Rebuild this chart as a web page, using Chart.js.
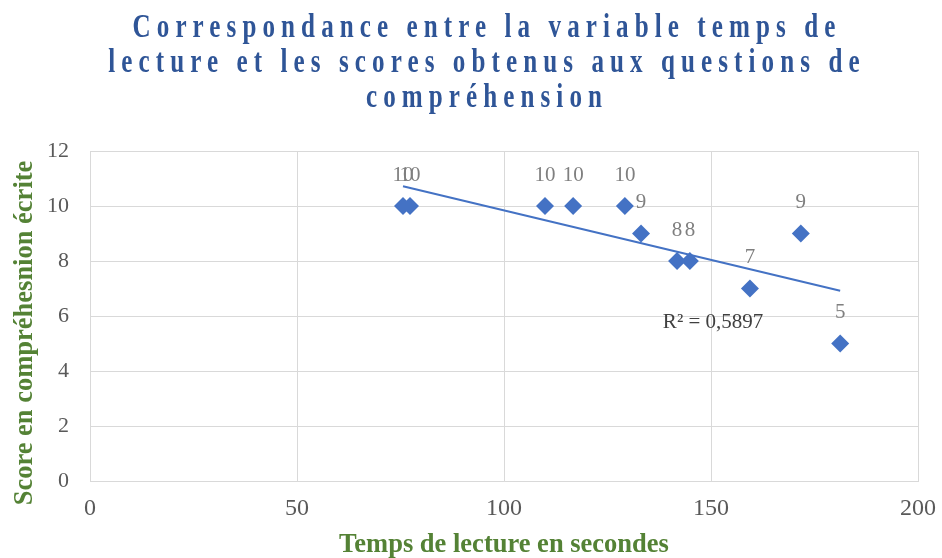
<!DOCTYPE html>
<html>
<head>
<meta charset="utf-8">
<script src="https://cdn.jsdelivr.net/npm/chart.js@4.4.1/dist/chart.umd.min.js"></script>
<style>
  html, body { margin: 0; padding: 0; background: #fff; }
  #wrap { position: relative; width: 942px; height: 558px; overflow: hidden; }
  #title {
    position: absolute; left: -63px; top: 9px; width: 1100px;
    text-align: center; font-family: "Liberation Serif", serif;
    font-weight: bold; font-size: 33px; line-height: 35px;
    letter-spacing: 8px; color: #2F5597; white-space: nowrap;
    transform: scaleX(0.76); transform-origin: center top;
  }
</style>
</head>
<body>
<div id="wrap">
  <div id="title">Correspondance entre la variable temps de<br>lecture et les scores obtenus aux questions de<br>compréhension</div>
  <canvas id="chart" width="942" height="558"></canvas>
</div>
<script>
// reading time (seconds) and comprehension score per pupil
const tempsLecture = [75.6, 77.3, 109.9, 116.7, 129.2, 133.1, 141.8, 144.9, 159.4, 171.7, 181.2];
const scores = [10, 10, 10, 10, 10, 9, 8, 8, 7, 9, 5];
const xTicks = [0, 50, 100, 150, 200];
const yTicks = [0, 2, 4, 6, 8, 10, 12];
const r2Text = 'R² = 0,5897';
const yTitle = 'Score en compréhesnion écrite';
const xTitle = 'Temps de lecture en secondes';

document.addEventListener('DOMContentLoaded', function() {
    const points = tempsLecture.map((x, i) => ({ x: x, y: scores[i] }));

    // least squares line, drawn between the smallest and largest x
    const n = points.length;
    const mx = tempsLecture.reduce((a, b) => a + b, 0) / n;
    const my = scores.reduce((a, b) => a + b, 0) / n;
    let sxy = 0, sxx = 0;
    points.forEach(p => { sxy += (p.x - mx) * (p.y - my); sxx += (p.x - mx) * (p.x - mx); });
    const slope = sxy / sxx;
    const intercept = my - slope * mx;
    const xMin = Math.min(...tempsLecture);
    const xMax = Math.max(...tempsLecture);
    const trend = [
        { x: xMin, y: intercept + slope * xMin },
        { x: xMax, y: intercept + slope * xMax }
    ];

    // value labels above each marker, the R² annotation and the y title
    const labelPlugin = {
        id: 'labels',
        afterDatasetsDraw(chart) {
            const ctx = chart.ctx;
            const meta = chart.getDatasetMeta(0);
            ctx.save();
            ctx.font = '21px "Liberation Serif"';
            ctx.fillStyle = '#7F7F7F';
            ctx.textAlign = 'center';
            ctx.textBaseline = 'middle';
            meta.data.forEach((el, i) => {
                ctx.fillText(String(scores[i]), el.x, el.y - 31);
            });
            const xs = chart.scales.x, ys = chart.scales.y;
            ctx.font = '21px "Liberation Serif"';
            ctx.fillStyle = '#404040';
            ctx.fillText(r2Text, xs.getPixelForValue(150.5), ys.getPixelForValue(5.75));

            // y axis title, a bit below the axis middle like the original
            ctx.translate(25, 333);
            ctx.rotate(-Math.PI / 2);
            ctx.font = 'bold 26.5px "Liberation Serif"';
            ctx.fillStyle = '#548235';
            ctx.fillText(yTitle, 0, 0);
            ctx.restore();
        }
    };

    const gridColor = '#D9D9D9';
    new Chart(document.getElementById('chart'), {
        type: 'scatter',
        data: {
            datasets: [{
                label: 'Score',
                data: points,
                pointStyle: 'rectRot',
                pointRadius: 9,
                backgroundColor: '#4472C4',
                borderColor: '#4472C4',
                borderWidth: 0
            }, {
                label: 'Tendance',
                type: 'line',
                data: trend,
                borderColor: '#4472C4',
                borderWidth: 2,
                pointRadius: 0,
                fill: false
            }]
        },
        options: {
            responsive: false,
            animation: false,
            layout: { padding: { top: 151, right: 24, left: 0, bottom: 0 } },
            plugins: {
                legend: { display: false },
                tooltip: { enabled: false }
            },
            scales: {
                x: {
                    type: 'linear',
                    min: 0, max: 200,
                    afterBuildTicks: s => { s.ticks = xTicks.map(v => ({ value: v })); },
                    afterFit: s => { s.height = 77; s.paddingRight = 0; },
                    grid: { color: gridColor, drawTicks: false },
                    border: { color: gridColor },
                    ticks: {
                        color: '#595959', padding: 13,
                        font: { family: 'Liberation Serif', size: 24 }
                    },
                    title: {
                        display: true, text: xTitle,
                        color: '#548235', padding: { top: 0, bottom: 0 },
                        font: { family: 'Liberation Serif', size: 26.5, weight: 'bold', lineHeight: 1 }
                    }
                },
                y: {
                    min: 0, max: 12,
                    afterBuildTicks: s => { s.ticks = yTicks.map(v => ({ value: v })); },
                    afterFit: s => { s.width = 90; },
                    grid: { color: gridColor, drawTicks: false },
                    border: { color: gridColor },
                    ticks: {
                        color: '#595959', padding: 21,
                        font: { family: 'Liberation Serif', size: 22 }
                    }
                }
            }
        },
        plugins: [labelPlugin]
    });
});
</script>
</body>
</html>
